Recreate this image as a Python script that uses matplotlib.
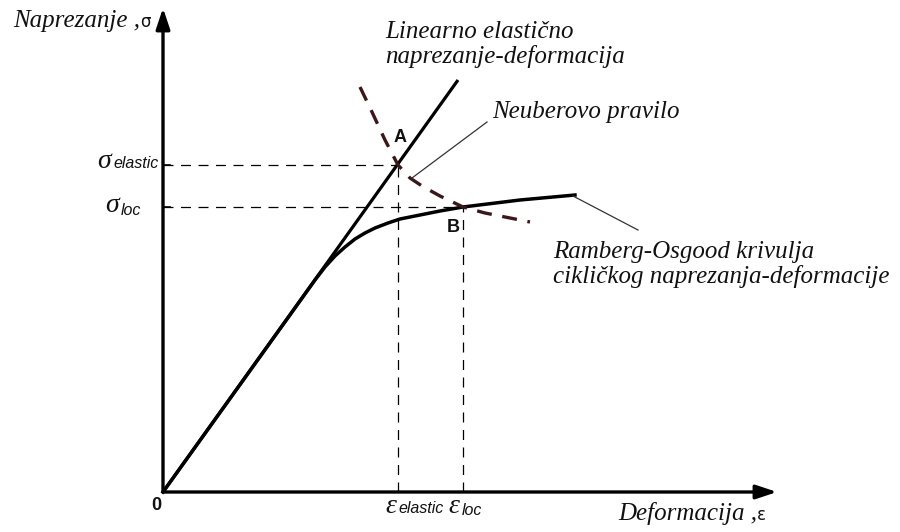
import matplotlib
matplotlib.use('Agg')
import matplotlib.pyplot as plt

# units: 1 unit = 100 px of the 900x532 picture, origin at the axes corner
eps_elastic_line = [0.0, 2.95]
sig_elastic_line = [0.0, 4.12]

# Ramberg-Osgood cyclic curve
eps_ro = [0.0, 1.37, 1.52, 1.62, 1.72, 1.82, 1.92, 2.02, 2.12, 2.25, 2.37, 2.57, 2.77, 3.00, 3.57, 4.12]
sig_ro = [0.0, 1.91, 2.12, 2.25, 2.36, 2.45, 2.53, 2.59, 2.64, 2.69, 2.73, 2.77, 2.81, 2.85, 2.92, 2.97]

# Neuber rule hyperbola
eps_nb = [1.97, 2.09, 2.22, 2.35, 2.47, 2.59, 2.77, 3.00, 3.22, 3.47, 3.67]
sig_nb = [4.05, 3.80, 3.52, 3.27, 3.14, 3.06, 2.96, 2.85, 2.79, 2.74, 2.70]

# points A and B
eps_A, sig_A = 2.35, 3.27
eps_B, sig_B = 3.00, 2.85

x_end, y_end = 6.14, 4.84

serif = 'Liberation Serif'
sans = 'Liberation Sans'
txtc = '#111111'

fig = plt.figure(figsize=(9, 5.32), dpi=100)
ax = fig.add_axes([0, 0, 1, 1])
ax.set_xlim(-1.63, 7.37)
ax.set_ylim(-0.40, 4.92)
ax.axis('off')

# axes with arrows
ax.annotate('', xy=(x_end, 0), xytext=(0, 0),
            arrowprops=dict(arrowstyle='-|>,head_length=0.9,head_width=0.3',
                            color='black', lw=2.4, mutation_scale=14, shrinkA=0, shrinkB=0))
ax.annotate('', xy=(0, y_end), xytext=(0, 0),
            arrowprops=dict(arrowstyle='-|>,head_length=0.9,head_width=0.3',
                            color='black', lw=2.4, mutation_scale=14, shrinkA=0, shrinkB=0))

# dashed reference lines
dash = dict(color='black', lw=0.9, ls=(0, (8, 6)))
ax.plot([0, eps_A], [sig_A, sig_A], **dash)
ax.plot([eps_A, eps_A], [0, sig_A], **dash)
ax.plot([0, eps_B], [sig_B, sig_B], **dash)
ax.plot([eps_B, eps_B], [0, sig_B], **dash)
ax.plot([0, 0.07], [sig_A, sig_A], color='black', lw=1.2)
ax.plot([0, 0.07], [sig_B, sig_B], color='black', lw=1.2)

# curves
ax.plot(eps_elastic_line, sig_elastic_line, color='black', lw=2.3, solid_capstyle='butt')
ax.plot(eps_ro, sig_ro, color='black', lw=2.5, solid_joinstyle='round')
ax.plot(eps_nb, sig_nb, color='#3d1618', lw=2.4, ls=(0, (4.5, 3.2)))

# leader lines
ax.plot([3.24, 2.49], [3.70, 3.14], color='#333333', lw=0.9)
ax.plot([4.10, 4.75], [2.96, 2.62], color='#333333', lw=0.9)

# point labels
ax.text(2.37, 3.55, 'A', fontsize=13, fontweight='bold', family=sans,
        ha='center', va='center', color=txtc)
ax.text(2.90, 2.65, 'B', fontsize=13, fontweight='bold', family=sans,
        ha='center', va='center', color=txtc)
ax.text(-0.07, -0.14, '0', fontsize=13, fontweight='bold', family=sans,
        ha='center', va='center', color=txtc)

# axis titles
ax.text(-1.50, 4.65, 'Naprezanje ,', fontsize=18, family=serif, style='italic',
        va='baseline', ha='left', color=txtc)
ax.text(-0.23, 4.65, 'σ', fontsize=12, family='DejaVu Sans',
        va='baseline', ha='left', color=txtc)
ax.text(4.55, -0.28, 'Deformacija ,', fontsize=18, family=serif, style='italic',
        va='baseline', ha='left', color=txtc)
ax.text(5.94, -0.28, 'ε', fontsize=12, family='DejaVu Sans',
        va='baseline', ha='left', color=txtc)

# stress / strain level labels
ax.text(-0.66, 3.24, 'σ', fontsize=20, family=serif, style='italic',
        va='baseline', ha='left', color=txtc)
ax.text(-0.50, 3.24, 'elastic', fontsize=11.5, family=sans, style='italic',
        va='baseline', ha='left', color=txtc)
ax.text(-0.58, 2.80, 'σ', fontsize=20, family=serif, style='italic',
        va='baseline', ha='left', color=txtc)
ax.text(-0.42, 2.77, 'loc', fontsize=11.5, family=sans, style='italic',
        va='baseline', ha='left', color=txtc)
ax.text(2.22, -0.21, 'ε', fontsize=20, family=serif, style='italic',
        va='baseline', ha='left', color=txtc)
ax.text(2.35, -0.21, 'elastic', fontsize=11.5, family=sans, style='italic',
        va='baseline', ha='left', color=txtc)
ax.text(2.85, -0.21, 'ε', fontsize=20, family=serif, style='italic',
        va='baseline', ha='left', color=txtc)
ax.text(2.99, -0.23, 'loc', fontsize=11.5, family=sans, style='italic',
        va='baseline', ha='left', color=txtc)

# descriptive labels
ax.text(2.22, 4.54, 'Linearno elastično', fontsize=18, family=serif, style='italic',
        va='baseline', ha='left', color=txtc)
ax.text(2.22, 4.29, 'naprezanje-deformacija', fontsize=18, family=serif, style='italic',
        va='baseline', ha='left', color=txtc)
ax.text(3.29, 3.74, 'Neuberovo pravilo', fontsize=18, family=serif, style='italic',
        va='baseline', ha='left', color=txtc)
ax.text(3.90, 2.34, 'Ramberg-Osgood krivulja', fontsize=18, family=serif, style='italic',
        va='baseline', ha='left', color=txtc)
ax.text(3.90, 2.09, 'cikličkog naprezanja-deformacije', fontsize=18, family=serif,
        style='italic', va='baseline', ha='left', color=txtc)

fig.savefig('out.png', dpi=100, facecolor='white')
